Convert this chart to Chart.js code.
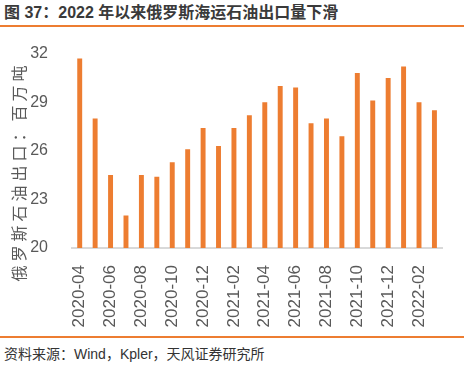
<!DOCTYPE html>
<html>
<head>
<meta charset="utf-8">
<script src="https://cdn.jsdelivr.net/npm/chart.js@4/dist/chart.umd.min.js"></script>
<style>
  html, body { margin: 0; padding: 0; background: #fff; }
  body { width: 464px; height: 367px; position: relative; overflow: hidden;
         font-family: "Liberation Sans", "Noto Sans CJK SC", sans-serif; }
  #title { position: absolute; left: 4px; top: 4px; font-size: 16px; font-weight: bold;
           color: #3a3a3a; white-space: nowrap; line-height: 18px; }
  #topline { position: absolute; left: 0; top: 25px; width: 464px; height: 2px; background: #ED7D31; }
  #botline { position: absolute; left: 0; top: 336px; width: 464px; height: 2px; background: #ED7D31; }
  #source { position: absolute; left: 4px; top: 345px; font-size: 14px; color: #333;
            white-space: nowrap; line-height: 18px; }
  #wrap { position: absolute; left: 0; top: 28px; width: 464px; height: 305px; }
</style>
</head>
<body>
<div id="title">图 37：2022 年以来俄罗斯海运石油出口量下滑</div>
<div id="topline"></div>
<div id="wrap"><canvas id="c"></canvas></div>
<div id="botline"></div>
<div id="source">资料来源：Wind，Kpler，天风证券研究所</div>
<script>
const categories = [
  "2020-04","2020-05","2020-06","2020-07","2020-08","2020-09","2020-10","2020-11","2020-12",
  "2021-01","2021-02","2021-03","2021-04","2021-05","2021-06","2021-07","2021-08","2021-09",
  "2021-10","2021-11","2021-12","2022-01","2022-02","2022-03"
];
const exportsMt = [
  31.7, 28.0, 24.5, 22.0, 24.5, 24.4, 25.3, 26.1, 27.4,
  26.3, 27.4, 28.2, 29.0, 30.0, 29.9, 27.7, 28.0, 26.9,
  30.8, 29.1, 30.5, 31.2, 29.0, 28.5
];
const yTitle = "俄罗斯石油出口：百万吨";
const yMin = 20, yMax = 32, yStep = 3;

const yTitlePlugin = {
  id: 'yTitle',
  afterDraw(chart) {
    const ctx = chart.ctx;
    ctx.save();
    ctx.translate(18.5, 145.5);
    ctx.rotate(-Math.PI / 2);
    ctx.font = '16px "Noto Sans CJK SC", "Liberation Sans", sans-serif';
    try { ctx.letterSpacing = '4px'; } catch (e) {}
    ctx.fillStyle = '#595959';
    ctx.textAlign = 'center';
    ctx.textBaseline = 'middle';
    ctx.fillText(yTitle, 2, 0);
    ctx.restore();
  }
};

new Chart(document.getElementById('c'), {
  type: 'bar',
  data: {
    labels: categories,
    datasets: [{
      data: exportsMt,
      backgroundColor: '#ED7D31',
      borderWidth: 0,
      barPercentage: 0.32,
      categoryPercentage: 1.0
    }]
  },
  options: {
    responsive: true,
    maintainAspectRatio: false,
    animation: false,
    layout: { padding: { left: 0, right: 8, top: 20, bottom: 0 } },
    plugins: { legend: { display: false }, tooltip: { enabled: false }, title: { display: false } },
    scales: {
      x: {
        grid: { display: false },
        border: { display: true, color: '#D9D9D9', width: 2 },
        afterFit(s) { s.height = 85; },
        ticks: {
          autoSkip: false,
          maxRotation: 90,
          minRotation: 90,
          padding: 9,
          color: '#595959',
          font: { size: 17, family: '"Liberation Sans", Arial, sans-serif' },
          callback(v, i) { return i % 2 === 0 ? categories[i] : ''; }
        }
      },
      y: {
        min: yMin,
        max: yMax,
        grid: { display: false },
        border: { display: false },
        afterFit(s) { s.width = 72; },
        ticks: {
          stepSize: yStep,
          padding: 16,
          color: '#595959',
          font: { size: 16, family: '"Liberation Sans", Arial, sans-serif' }
        }
      }
    }
  },
  plugins: [yTitlePlugin]
});
</script>
</body>
</html>
